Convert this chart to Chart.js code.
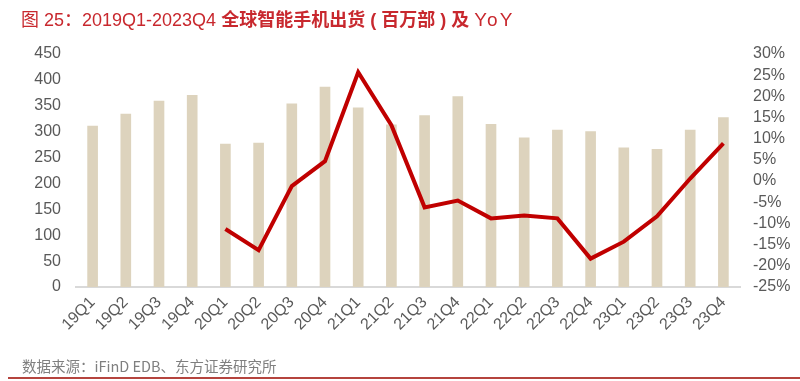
<!DOCTYPE html>
<html>
<head>
<meta charset="utf-8">
<script src="https://cdn.jsdelivr.net/npm/chart.js@4.4.1/dist/chart.umd.min.js"></script>
<style>
  html, body { margin: 0; padding: 0; background: #fff; }
  #wrap { position: relative; width: 800px; height: 381px; overflow: hidden; }
  #title {
    position: absolute; left: 21px; top: 5px;
    font-family: "Liberation Sans", "Noto Sans CJK SC", sans-serif;
    font-size: 18px; color: #c8282e; white-space: nowrap;
  }
  #title b { font-weight: 700; }
  #title .yoy { font-weight: 400; letter-spacing: 2px; font-size: 19px; }
  #source {
    position: absolute; left: 22px; top: 356px;
    font-family: "Noto Sans CJK SC", sans-serif;
    font-size: 14.5px; line-height: 20px; color: #7f7f7f; white-space: nowrap;
  }
  #rule { position: absolute; left: 8px; right: 0; top: 377px; height: 2px; background: #b5443e; }
  #chart { position: absolute; left: 0; top: 0; }
</style>
</head>
<body>
<div id="wrap">
  <canvas id="chart" width="800" height="381"></canvas>
  <div id="title">图 25：2019Q1-2023Q4 <b>全球智能手机出货 ( 百万部 ) 及 </b><span class="yoy">YoY</span></div>
  <div id="source">数据来源：iFinD EDB、东方证券研究所</div>
  <div id="rule"></div>
</div>
<script>
const quarters = ['19Q1', '19Q2', '19Q3', '19Q4', '20Q1', '20Q2', '20Q3', '20Q4',
  '21Q1', '21Q2', '21Q3', '21Q4', '22Q1', '22Q2', '22Q3', '22Q4',
  '23Q1', '23Q2', '23Q3', '23Q4'];

// shipments, million units
const shipments = [311, 334, 359, 370, 276, 278, 354, 386,
  346, 313, 331, 368, 314, 288, 303, 300,
  269, 266, 303, 327];

// YoY, %
const yoy = [null, null, null, null, -11.3, -16.3, -1.2, 4.7,
  25.7, 13.2, -6.2, -4.6, -8.8, -8.1, -8.8, -18.3,
  -14.3, -8.3, 0.6, 8.9];

const tickFont = { family: '"Liberation Sans", Arial, sans-serif', size: 16 };
const tickColor = '#595959';

const ctx = document.getElementById('chart').getContext('2d');

new Chart(ctx, {
  type: 'bar',
  data: {
    labels: quarters,
    datasets: [
      {
        type: 'line',
        label: 'YoY',
        data: yoy,
        yAxisID: 'y1',
        borderColor: '#c00000',
        borderWidth: 4,
        pointRadius: 0,
        tension: 0,
        order: 0
      },
      {
        label: '出货量',
        data: shipments,
        yAxisID: 'y',
        backgroundColor: '#ddd3bd',
        barThickness: 10,
        order: 1
      }
    ]
  },
  options: {
    responsive: false,
    animation: false,
    layout: { padding: { top: 54, bottom: 44, left: 0, right: 0 } },
    plugins: {
      legend: { display: false },
      tooltip: { enabled: false }
    },
    scales: {
      x: {
        grid: { display: false, drawTicks: false },
        border: { display: true, color: '#d9d9d9', width: 2 },
        ticks: {
          color: tickColor,
          font: { family: '"Liberation Sans", Arial, sans-serif', size: 16 },
          maxRotation: 45,
          minRotation: 45,
          autoSkip: false,
          padding: 6
        },
        afterFit: function(scale) { scale.height = 50; }
      },
      y: {
        position: 'left',
        min: 0,
        max: 450,
        grid: { display: false, drawTicks: false },
        border: { display: false },
        ticks: { stepSize: 50, autoSkip: false, color: tickColor, font: tickFont, padding: 15 },
        afterFit: function(scale) { scale.width = 76; }
      },
      y1: {
        position: 'right',
        min: -25,
        max: 30,
        grid: { display: false, drawTicks: false },
        border: { display: false },
        ticks: {
          stepSize: 5,
          autoSkip: false,
          color: tickColor,
          font: tickFont,
          padding: 13,
          callback: function(v) { return v + '%'; }
        },
        afterFit: function(scale) { scale.width = 60; }
      }
    }
  }
});
</script>
</body>
</html>
